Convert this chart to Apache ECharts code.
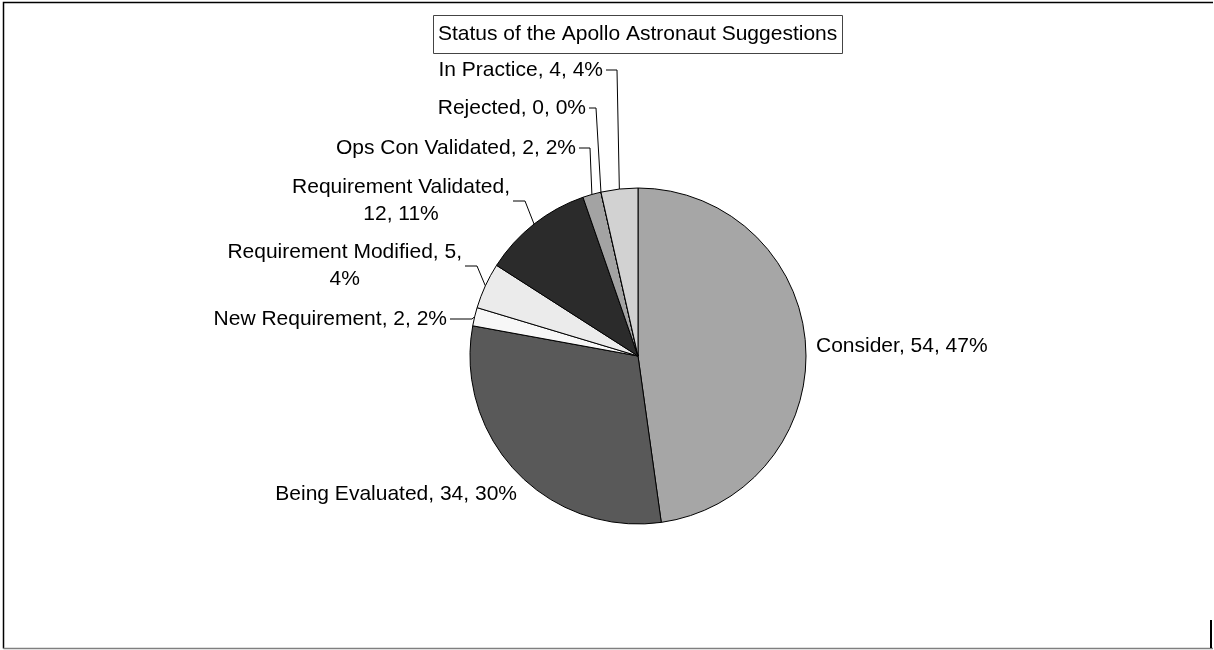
<!DOCTYPE html>
<html>
<head>
<meta charset="utf-8">
<script src="https://cdn.jsdelivr.net/npm/echarts@6/dist/echarts.min.js"></script>
<style>
html,body{margin:0;padding:0;background:#fff;}
#chart{width:1214px;height:650px;}
</style>
</head>
<body>
<div id="chart"></div>
<script>
// ---- data ----
const categories = ['Consider', 'Being Evaluated', 'New Requirement', 'Requirement Modified',
  'Requirement Validated', 'Ops Con Validated', 'Rejected', 'In Practice'];
const values = [54, 34, 2, 5, 12, 2, 0, 4];
const percents = [47, 30, 2, 4, 11, 2, 0, 4];
const titleText = 'Status of the Apollo Astronaut Suggestions';

// ---- styles / layout ----
const colors = ['#a6a6a6', '#595959', '#f7f7f7', '#ebebeb', '#2b2b2b', '#a3a3a3', '#808080', '#d2d2d2'];
const firstLineParts = {3: 2, 4: 1};
const place = [
  {left: 816, y: 346},
  {right: 517, y: 494},
  {right: 447, y: 319, elbow: 472},
  {right: 462, y: 266, elbow: 477},
  {right: 510, y: 201, elbow: 525},
  {right: 576, y: 148, elbow: 590},
  {right: 586, y: 108, elbow: 596},
  {right: 603, y: 70, elbow: 617}
];
const FONT = '"Liberation Sans", Arial, Helvetica, sans-serif';
const CENTER = [638, 356];
const RADIUS = 168;

function labelText(i) {
  const parts = [categories[i], String(values[i]), percents[i] + '%'];
  const k = firstLineParts[i];
  if (k) return parts.slice(0, k).join(', ') + ',\n' + parts.slice(k).join(', ');
  return parts.join(', ');
}

const total = values.reduce((a, b) => a + b, 0);
function fallbackAnchor(i) {
  let cum = 0;
  for (let j = 0; j < i; j++) cum += values[j];
  const mid = (cum + values[i] / 2) / total * 2 * Math.PI;
  return [CENTER[0] + RADIUS * Math.sin(mid), CENTER[1] - RADIUS * Math.cos(mid)];
}

const data = categories.map((name, i) => ({
  name: name,
  value: values[i],
  itemStyle: {color: colors[i]},
  labelLine: {show: place[i].elbow != null}
}));

const chart = echarts.init(document.getElementById('chart'), null, {renderer: 'canvas'});
chart.setOption({
  backgroundColor: '#ffffff',
  animation: false,
  title: {
    text: titleText,
    left: 433,
    top: 15,
    padding: [9, 5],
    borderColor: '#444',
    borderWidth: 1,
    textStyle: {fontFamily: FONT, fontSize: 21, fontWeight: 'normal', color: '#000'}
  },
  graphic: [
    {type: 'polyline', silent: true, shape: {points: [[1213, 2.5], [3.5, 2.5], [3.5, 648.5]]},
      style: {stroke: '#000', lineWidth: 1.5, fill: null}},
    {type: 'line', silent: true, shape: {x1: 3.5, y1: 648.5, x2: 1213, y2: 648.5},
      style: {stroke: '#7f7f7f', lineWidth: 1.5}},
    {type: 'line', silent: true, shape: {x1: 1211, y1: 620, x2: 1211, y2: 648},
      style: {stroke: '#000', lineWidth: 2}}
  ],
  series: [{
    type: 'pie',
    center: CENTER,
    radius: RADIUS,
    startAngle: 90,
    clockwise: true,
    avoidLabelOverlap: false,
    minShowLabelAngle: 0,
    emphasis: {disabled: true},
    data: data,
    itemStyle: {borderColor: '#000', borderWidth: 1},
    label: {
      show: true,
      position: 'outside',
      formatter: p => labelText(p.dataIndex),
      fontFamily: FONT,
      fontSize: 21,
      lineHeight: 27,
      color: '#000'
    },
    labelLine: {
      length: 10,
      length2: 10,
      smooth: false,
      lineStyle: {color: '#000', width: 1}
    },
    labelLayout: function (p) {
      const i = p.dataIndex;
      const pl = place[i];
      const w = p.labelRect.width;
      const x = pl.left != null ? pl.left + w / 2 : pl.right - w / 2;
      const out = {x: x, y: pl.y, align: 'center', verticalAlign: 'middle'};
      if (pl.elbow != null) {
        const a = (p.labelLinePoints && p.labelLinePoints[0]) || fallbackAnchor(i);
        out.labelLinePoints = [a, [pl.elbow, pl.y], [pl.right + 3, pl.y]];
      }
      return out;
    }
  }]
});
</script>
</body>
</html>
